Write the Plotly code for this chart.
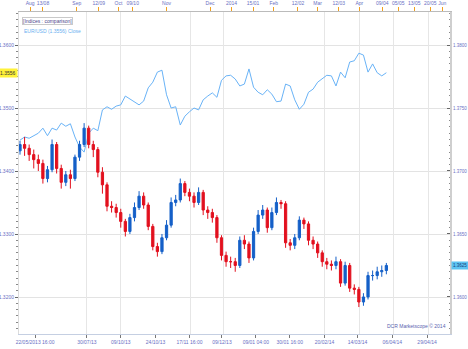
import plotly.graph_objects as go

# ---------------- data ----------------
idx = list(range(81))

line_vals = [1.3449,1.3454,1.3452,1.3456,1.3460,1.3468,1.3456,1.3468,1.3465,1.3476,
             1.3471,1.3475,1.3454,1.3438,1.3430,1.3460,1.3468,1.3464,1.3497,1.3502,
             1.3498,1.3503,1.3505,1.3519,1.3514,1.3510,1.3505,1.3511,1.3532,1.3541,
             1.3557,1.3560,1.3521,1.3500,1.3502,1.3473,1.3487,1.3494,1.3500,1.3497,
             1.3513,1.3519,1.3524,1.3517,1.3544,1.3551,1.3552,1.3546,1.3535,1.3538,
             1.3562,1.3533,1.3525,1.3521,1.3529,1.3522,1.3510,1.3511,1.3538,1.3535,
             1.3513,1.3498,1.3506,1.3525,1.3530,1.3541,1.3546,1.3552,1.3551,1.3535,
             1.3557,1.3548,1.3573,1.3575,1.3587,1.3584,1.3557,1.3570,1.3556,1.3551,
             1.3556]

c_open = [1.3716,1.3721,1.3718,1.3713,1.3709,1.3706,1.3694,1.3701,1.3721,1.3702,
          1.3691,1.3697,1.3694,1.3711,1.3721,1.3734,1.3721,1.3717,1.3699,1.3689,
          1.3672,1.3671,1.3667,1.3660,1.3652,1.3663,1.3671,1.3680,1.3673,1.3656,
          1.3640,1.3636,1.3647,1.3657,1.3675,1.3677,1.3690,1.3683,1.3680,1.3675,
          1.3683,1.3669,1.3667,1.3663,1.3647,1.3633,1.3628,1.3628,1.3625,1.3645,
          1.3642,1.3631,1.3652,1.3665,1.3669,1.3655,1.3667,1.3675,1.3674,1.3643,
          1.3641,1.3647,1.3661,1.3658,1.3645,1.3642,1.3635,1.3628,1.3626,1.3625,
          1.3628,1.3611,1.3625,1.3607,1.3606,1.3596,1.3600,1.3617,1.3617,1.3620,
          1.3621]
c_close = [1.3721,1.3718,1.3713,1.3709,1.3706,1.3694,1.3701,1.3721,1.3702,1.3691,
           1.3697,1.3694,1.3711,1.3721,1.3734,1.3721,1.3717,1.3699,1.3689,1.3672,
           1.3671,1.3667,1.3660,1.3652,1.3663,1.3671,1.3680,1.3673,1.3656,1.3640,
           1.3636,1.3647,1.3657,1.3675,1.3677,1.3690,1.3683,1.3680,1.3675,1.3683,
           1.3669,1.3667,1.3663,1.3647,1.3633,1.3628,1.3628,1.3625,1.3645,1.3642,
           1.3631,1.3652,1.3665,1.3669,1.3655,1.3667,1.3675,1.3674,1.3643,1.3641,
           1.3647,1.3661,1.3658,1.3645,1.3642,1.3635,1.3628,1.3626,1.3625,1.3628,
           1.3611,1.3625,1.3607,1.3606,1.3596,1.3600,1.3617,1.3617,1.3620,1.3621,
           1.3625]
c_high = [1.3724,1.3727,1.3721,1.3717,1.3713,1.3709,1.3704,1.3725,1.3723,1.3705,
          1.3700,1.3701,1.3713,1.3724,1.3738,1.3736,1.3724,1.3719,1.3703,1.3691,
          1.3676,1.3674,1.3670,1.3662,1.3666,1.3675,1.3684,1.3683,1.3675,1.3658,
          1.3643,1.3650,1.3661,1.3679,1.3681,1.3694,1.3692,1.3686,1.3683,1.3687,
          1.3685,1.3672,1.3670,1.3665,1.3649,1.3636,1.3632,1.3631,1.3648,1.3649,
          1.3644,1.3655,1.3669,1.3673,1.3671,1.3671,1.3679,1.3677,1.3676,1.3646,
          1.3650,1.3664,1.3663,1.3660,1.3648,1.3644,1.3637,1.3631,1.3629,1.3632,
          1.3630,1.3628,1.3627,1.3610,1.3608,1.3603,1.3620,1.3621,1.3624,1.3625,
          1.3627]
c_low = [1.3713,1.3712,1.3708,1.3702,1.3700,1.3690,1.3691,1.3699,1.3698,1.3686,
         1.3688,1.3686,1.3692,1.3708,1.3719,1.3718,1.3711,1.3695,1.3682,1.3668,
         1.3667,1.3663,1.3655,1.3648,1.3650,1.3660,1.3669,1.3670,1.3653,1.3637,
         1.3632,1.3634,1.3645,1.3655,1.3672,1.3675,1.3680,1.3676,1.3671,1.3673,
         1.3665,1.3662,1.3659,1.3643,1.3629,1.3624,1.3623,1.3620,1.3623,1.3638,
         1.3627,1.3629,1.3650,1.3662,1.3651,1.3653,1.3665,1.3670,1.3639,1.3637,
         1.3638,1.3645,1.3654,1.3641,1.3638,1.3631,1.3624,1.3622,1.3621,1.3622,
         1.3608,1.3609,1.3604,1.3602,1.3592,1.3593,1.3598,1.3613,1.3614,1.3616,
         1.3618]

bottom_tickvals = [3.3, 14.6, 22.0, 29.6, 37.0, 44.1, 51.5, 58.9, 66.5, 73.7, 81.3, 88.9]
bottom_ticktext = ["22/05/2013 16:00", "30/07/13", "09/10/13", "24/10/13",
                   "17/11 16:00", "09/12/13", "09/01 04:00", "30/01 16:00",
                   "20/02/14", "14/03/14", "06/04/14", "29/04/14"]
top_tickvals = [2.2, 5.0, 12.4, 17.2, 21.5, 24.6, 32.0, 41.5, 46.2,
                50.9, 55.4, 60.7, 65.0, 69.6, 74.1, 79.1, 82.6, 86.1, 89.6, 92.2]
top_ticktext = ["Aug", "13/08", "Sep", "12/09", "Oct", "09/10", "Nov",
                "Dec", "2014", "15/01", "Feb", "12/02", "Mar", "12/03",
                "Apr", "09/04", "05/05", "13/05", "20/05", "Jun"]
grid_x = [14.6, 22.0, 37.2, 44.35, 66.5, 74.1, 81.5, 89.1]

left_ticks = [1.3600, 1.3500, 1.3400, 1.3300, 1.3200]
right_ticks = [1.3800, 1.3750, 1.3700, 1.3650, 1.3600]

# ---------------- figure ----------------
FONT = "Liberation Sans"
XR = [-0.22, 93.9]

fig = go.Figure()
fig.add_trace(go.Scatter(x=idx, y=line_vals, mode="lines", line=dict(color="#69b3f7", width=1),
                         yaxis="y", xaxis="x", showlegend=False, hoverinfo="skip"))
fig.add_trace(go.Candlestick(x=idx, open=c_open, high=c_high, low=c_low, close=c_close,
                             xaxis="x", yaxis="y2", showlegend=False,
                             increasing=dict(line=dict(color="#1560c8", width=1), fillcolor="#1560c8"),
                             decreasing=dict(line=dict(color="#e2101e", width=1), fillcolor="#e2101e"),
                             whiskerwidth=0))
# invisible traces to activate auxiliary axes
fig.add_trace(go.Scatter(x=[XR[0]], y=[None], xaxis="x2", yaxis="y", showlegend=False, hoverinfo="skip"))
fig.add_trace(go.Scatter(x=[XR[0]], y=[None], xaxis="x3", yaxis="y", showlegend=False, hoverinfo="skip"))

tickfont = dict(family=FONT, size=5, color="#6a6fc4")
rfont = dict(family=FONT, size=4.5, color="#6a6fc4")
fig.update_layout(
    width=468, height=349,
    margin=dict(l=19, r=18, t=12, b=15, autoexpand=False),
    paper_bgcolor="white", plot_bgcolor="white",
    xaxis=dict(range=XR, tickvals=bottom_tickvals, ticktext=bottom_ticktext, tickfont=tickfont,
               showgrid=False, zeroline=False, showline=True, linecolor="#c5cfe2", linewidth=1,
               ticks="outside", ticklen=3, tickcolor="#777", rangeslider=dict(visible=False),
               tickangle=0, automargin=False),
    xaxis2=dict(range=XR, overlaying="x", side="top", tickvals=top_tickvals, ticktext=top_ticktext,
                tickfont=tickfont, showgrid=False, zeroline=False, showline=True, linecolor="#bbb",
                ticks="outside", ticklen=4, tickcolor="#f0a020", tickwidth=1, tickangle=0,
                automargin=False),
    xaxis3=dict(range=XR, overlaying="x", tickvals=grid_x, showticklabels=False, showgrid=True,
                gridcolor="#e6e6e6", gridwidth=1, zeroline=False, ticks="", automargin=False),
    yaxis=dict(range=[1.31413, 1.36524], tickvals=left_ticks, ticktext=[f"{v:.4f}" for v in left_ticks],
               tickfont=tickfont, showgrid=True, gridcolor="#e3e3e3", zeroline=False,
               showline=True, linecolor="#dcdcdc", ticks="outside", ticklen=3, tickcolor="#666",
               automargin=False,
               minor=dict(dtick=0.001, ticks="outside", ticklen=2, tickcolor="#888", showgrid=False)),
    yaxis2=dict(range=[1.35706, 1.38262], overlaying="y", side="right", tickvals=right_ticks,
                ticktext=[f"{v:.4f}" for v in right_ticks], tickfont=rfont, showgrid=False,
                zeroline=False, showline=True, linecolor="#cfcfcf", linewidth=2, ticks="inside",
                ticklen=3, tickcolor="#666", automargin=False,
                minor=dict(dtick=0.0005, ticks="inside", ticklen=1, tickcolor="#888", showgrid=False)),
    annotations=[
        dict(xref="paper", yref="paper", x=0.008, y=0.985, xanchor="left", yanchor="top",
             text="[Indices : comparison]", showarrow=False, font=dict(family=FONT, size=5, color="#4a3f8a"),
             bordercolor="#c9c9c9", borderwidth=1, borderpad=0, bgcolor="white"),
        dict(xref="paper", yref="paper", x=0.008, y=0.958, xanchor="left", yanchor="top",
             text=f"EUR/USD ({line_vals[-1]:.4f}) Close", showarrow=False,
             font=dict(family=FONT, size=5, color="#6ab0f0")),
        dict(xref="paper", yref="y", x=0, y=line_vals[-1], xanchor="right", yanchor="middle", xshift=-1,
             text=f"{line_vals[-1]:.4f}", showarrow=False, bgcolor="#fff23a",
             font=dict(family=FONT, size=5, color="#333"), borderpad=1),
        dict(xref="paper", yref="y2", x=1, y=c_close[-1], xanchor="left", yanchor="middle", xshift=1,
             text=f"{c_close[-1]:.4f}", showarrow=False, bgcolor="#5cc3f2",
             font=dict(family=FONT, size=4.5, color="#1a3f7a"), borderpad=1),
        dict(xref="paper", yref="paper", x=0.995, y=0.008, xanchor="right", yanchor="bottom",
             text="DCR Marketscope © 2014", showarrow=False, font=dict(family=FONT, size=5, color="#5a5fb0")),
    ],
)

fig.write_html("out.html")
